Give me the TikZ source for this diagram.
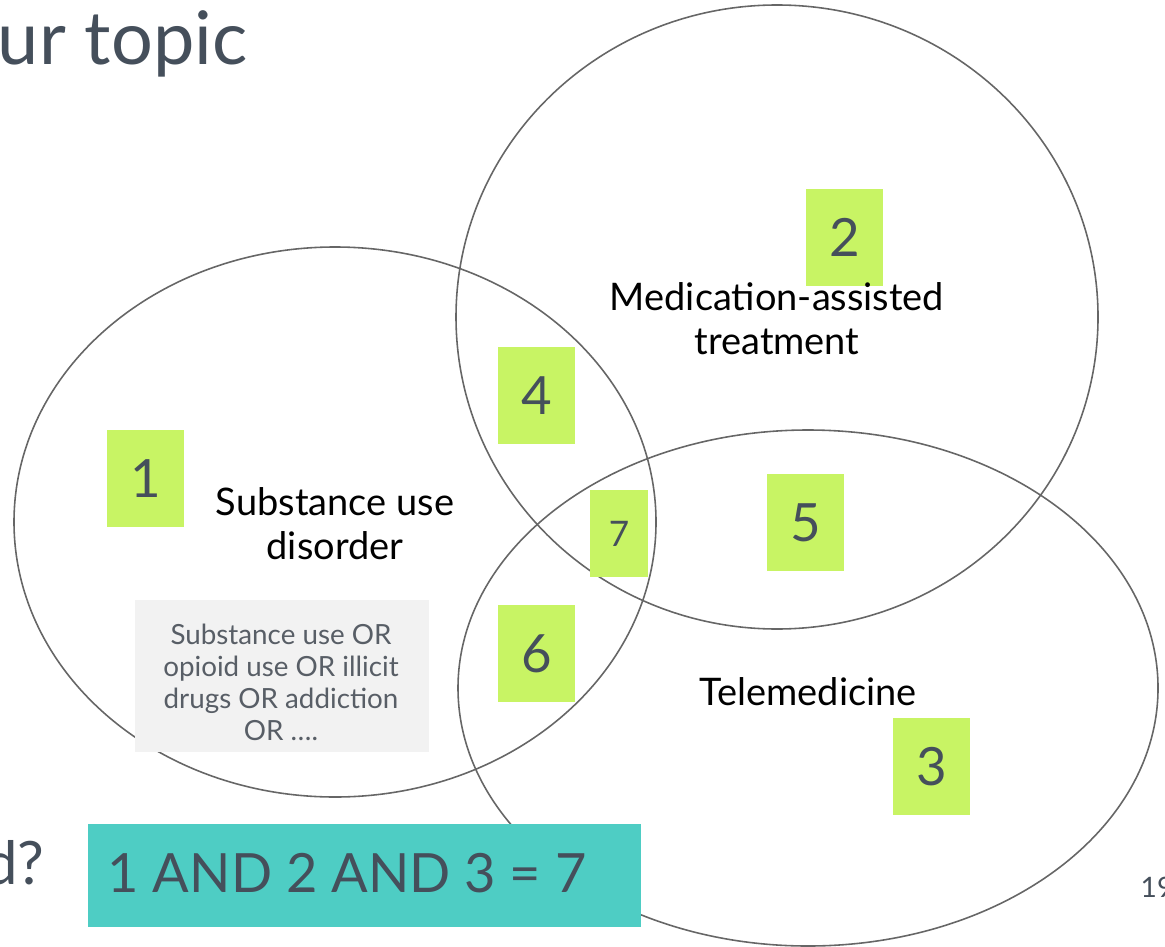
\documentclass[tikz,border=0pt]{standalone}
\usepackage{fontspec}
\setmainfont{Lato}
\definecolor{slate}{HTML}{454F5B}
\definecolor{lime}{HTML}{C8F464}
\definecolor{teal2}{HTML}{4ECDC4}
\definecolor{greybox}{HTML}{F2F2F2}
\definecolor{ring}{HTML}{666666}
\definecolor{greytxt}{HTML}{585E66}
\tikzset{
  ring/.style={draw=ring, line width=0.45pt},
  num/.style={fill=lime, text=slate, inner sep=0pt, font=\fontsize{15}{15}\selectfont},
  lbl/.style={text=black, align=center, font=\fontsize{10.8}{12.5}\selectfont},
  plain/.style={inner sep=0pt, text=slate},
}
\begin{document}
\begin{tikzpicture}[x=0.01cm,y=-0.01cm]
\useasboundingbox (0,0) rectangle (1165,946);
% ellipses
\draw[ring] (335,522) ellipse [x radius=321, y radius=275];
\draw[ring] (777,317) ellipse [x radius=321, y radius=312];
\draw[ring] (808,688) ellipse [x radius=350, y radius=258];
% title fragments (cut by the page edge as in the reference)
\node[plain, anchor=base east, font=\fontsize{21}{21}\selectfont] (title) at (248,65) {ur topic};
\node[plain, anchor=base east, font=\fontsize{17}{17}\selectfont] (q) at (45,884) {d?};
\node[plain, anchor=base west, font=\fontsize{8}{8}\selectfont] (page) at (1140,897) {19};
% grey box
\node[fill=greybox, minimum width=294*0.01cm, minimum height=152*0.01cm, inner sep=0pt, anchor=north west] (grey) at (134,599) {};
\node[text=greytxt, align=center, font=\fontsize{7.9}{9.1}\selectfont] (greytext) at (281,682) {Substance use OR\\opioid use OR illicit\\drugs OR addiction\\OR ….};
% teal box
\node[fill=teal2, minimum width=553*0.01cm, minimum height=103*0.01cm, inner sep=0pt, anchor=north west] (teal) at (87,823) {};
\node[plain, anchor=base west, font=\fontsize{15.4}{16}\selectfont] (eq) at (107,892) {1 AND 2 AND 3 = 7};
% number boxes
\node[num, minimum width=77*0.01cm, minimum height=97*0.01cm] (n1) at (145.5,478.5) {1};
\node[num, minimum width=77*0.01cm, minimum height=97*0.01cm] (n2) at (844.5,237.5) {2};
\node[num, minimum width=77*0.01cm, minimum height=97*0.01cm] (n4) at (536.5,395.5) {4};
\node[num, minimum width=77*0.01cm, minimum height=97*0.01cm] (n5) at (805.5,522.5) {5};
\node[num, minimum width=77*0.01cm, minimum height=97*0.01cm] (n6) at (536.5,653.5) {6};
\node[num, minimum width=77*0.01cm, minimum height=97*0.01cm] (n3) at (931.5,766.5) {3};
\node[num, minimum width=58*0.01cm, minimum height=87*0.01cm, font=\fontsize{10}{10}\selectfont] (n7) at (619,533.5) {7};
% labels
\node[lbl] (sud) at (335,524) {Substance use\\disorder};
\node[lbl] (mat) at (777,319) {Medication-assisted\\treatment};
\node[lbl] (tele) at (808,692) {Telemedicine};
\end{tikzpicture}
\end{document}
